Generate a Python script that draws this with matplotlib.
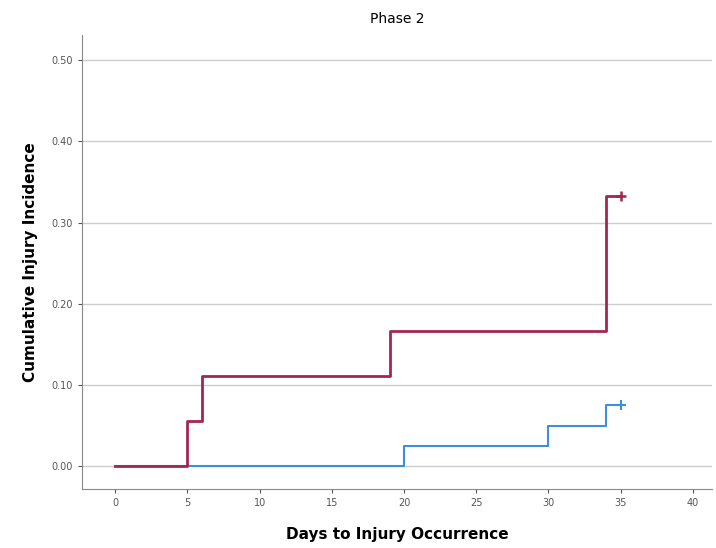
import matplotlib.pyplot as plt

# step data (time, cumulative incidence)
red_t = [0, 5, 6, 19, 34, 35]
red_y = [0.0, 0.0556, 0.1111, 0.1667, 0.3333, 0.3333]
blue_t = [0, 20, 30, 34, 35]
blue_y = [0.0, 0.025, 0.05, 0.075, 0.075]

x_ticks = [0, 5, 10, 15, 20, 25, 30, 35, 40]
y_ticks = [0.0, 0.1, 0.2, 0.3, 0.4, 0.5]

red = '#a3264f'
blue = '#3d8fd9'

fig = plt.figure(figsize=(7.16, 5.48), dpi=100)
ax = fig.add_axes([0.1145, 0.1077, 0.8795, 0.8283])

ax.step(blue_t, blue_y, where='post', color=blue, lw=1.5)
ax.step(red_t, red_y, where='post', color=red, lw=2.0)
ax.plot(blue_t[-1], blue_y[-1], marker='+', color=blue, ms=7, mew=1.5)
ax.plot(red_t[-1], red_y[-1], marker='+', color=red, ms=7, mew=1.8)

ax.set_xlim(-2.3, 41.3)
ax.set_ylim(-0.028, 0.531)
ax.set_xticks(x_ticks)
ax.set_yticks(y_ticks)
ax.set_yticklabels([f'{v:.2f}' for v in y_ticks])
ax.tick_params(labelsize=7, colors='#555555', length=3)
ax.yaxis.grid(True, color='#cccccc', lw=1)
ax.set_axisbelow(True)
for s in ['top', 'right']:
    ax.spines[s].set_visible(False)
for s in ['left', 'bottom']:
    ax.spines[s].set_color('#888888')

ax.set_title('Phase 2', fontsize=10, pad=9)
ax.set_xlabel('Days to Injury Occurrence', fontsize=11, fontweight='bold', labelpad=14)
ax.set_ylabel('Cumulative Injury Incidence', fontsize=11, fontweight='bold', labelpad=10)

fig.savefig('out.png', dpi=100)
